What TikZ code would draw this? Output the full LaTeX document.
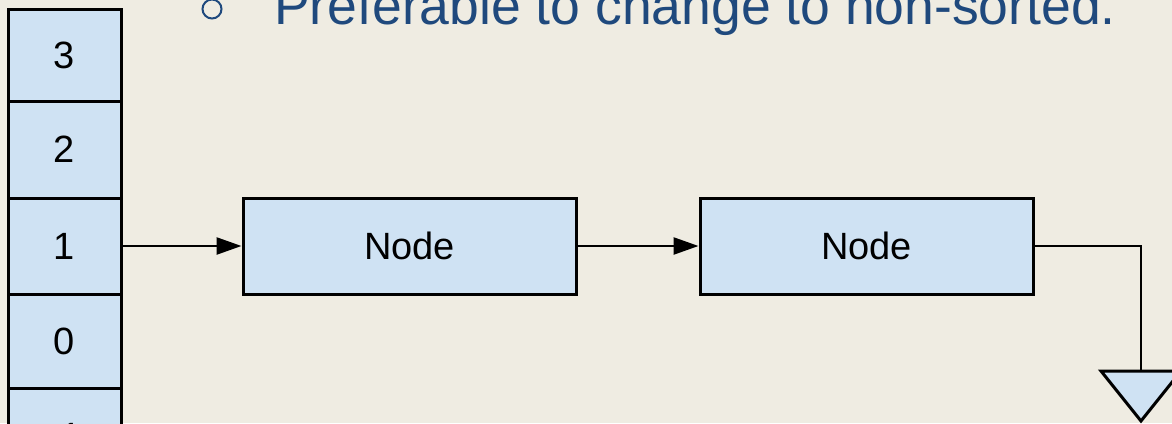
\documentclass[tikz,border=0pt]{standalone}
\usepackage{fontspec}
\setmainfont{Liberation Sans}
\usetikzlibrary{arrows.meta}
\definecolor{pagebg}{RGB}{239,236,226}
\definecolor{cellblue}{RGB}{207,226,243}
\definecolor{titleblue}{RGB}{31,73,125}
\begin{document}
\begin{tikzpicture}[x=1pt,y=-1pt,
  cell/.style={draw=black, line width=3pt, fill=cellblue, inner sep=0pt,
    minimum width=113pt, font=\fontsize{38}{38}\selectfont},
  listnode/.style={draw=black, line width=3pt, fill=cellblue, inner sep=0pt,
    minimum width=333pt, minimum height=96pt, font=\fontsize{38}{38}\selectfont},
  link/.style={draw=black, line width=2.5pt, -{Triangle[length=25pt,width=17pt]}},
  wire/.style={draw=black, line width=2.5pt}]
\useasboundingbox (0,0) rectangle (1172,423);
\clip (0,0) rectangle (1172,423);
\fill[pagebg] (0,0) rectangle (1172,423);

% bullet line of the slide text
\node[circle, draw=titleblue, line width=2pt, minimum size=19pt, inner sep=0pt] (bullet) at (212,9) {};
\node[anchor=base west, inner sep=0pt, text=titleblue,
  font=\fontsize{53.5}{53.5}\selectfont] (title) at (274,24) {Preferable to change to non-sorted.};

% hash table buckets
\node[cell, minimum height=92pt] (b3) at (64.5,55) {3};
\node[cell, minimum height=97pt] (b2) at (64.5,149.5) {2};
\node[cell, minimum height=96pt] (b1) at (64.5,246) {1};
\node[cell, minimum height=94pt] (b0) at (64.5,341) {0};
\node[cell, minimum height=96pt] (bm1) at (64.5,436) {-1};

% chained list nodes
\node[listnode] (n1) at (409.5,246) {Node};
\node[listnode] (n2) at (866.5,246) {Node};

% null terminator
\coordinate (gnd) at (1141,371);
\filldraw[draw=black, fill=cellblue, line width=3pt, line join=miter]
  (1101,371) -- (1181,371) -- (1141,421) -- cycle;

% links
\draw[link] (b1.east) -- (n1.west);
\draw[link] (n1.east) -- (n2.west);
\draw[wire] (n2.east) -| (gnd);
\end{tikzpicture}
\end{document}
